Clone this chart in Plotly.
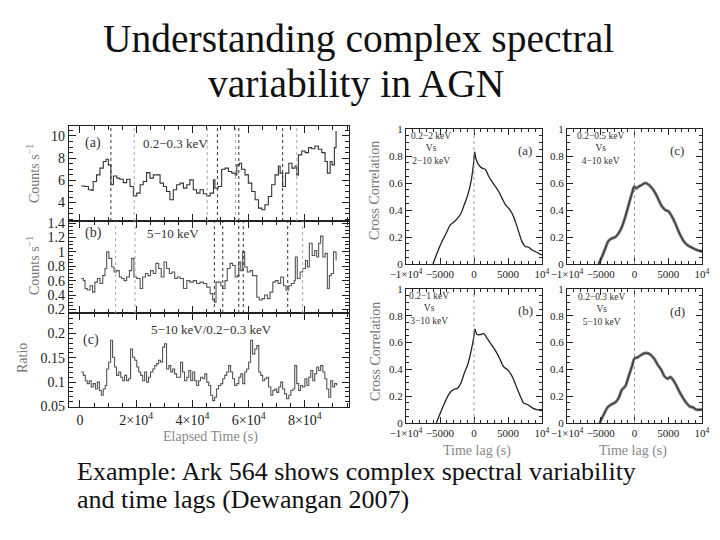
import plotly.graph_objects as go

# ---------------- light curves (time in ks) ----------------
t_soft = [0.4,1.8,3.0,4.2,4.7,5.9,7.1,8.3,9.3,10.1,
          11.0,11.9,13.1,14.2,15.4,16.6,17.8,19.0,20.2,21.4,
          22.5,23.7,24.9,26.1,27.3,28.5,29.7,30.8,32.0,33.2,
          34.4,35.6,36.8,38.0,39.1,40.3,41.5,42.7,43.9,45.1,
          46.3,47.5,48.0,49.2,50.4,51.6,52.8,54.0,55.2,55.8,
          56.7,57.5,58.7,59.9,61.1,62.3,63.5,64.7,65.8,67.0,
          68.2,69.4,70.6,71.2,72.1,73.1,74.3,75.4,76.5,77.1,
          77.7,78.9,80.1,81.3,82.4,83.6,84.8,86.0,87.2,88.0,
          89.0,89.7,90.5,91.1]
rate_soft = [5.5,5.45,5.15,5.1,5.9,6.5,7.1,7.7,7.9,7.4,
             5.6,6.4,6.2,6.1,5.8,6.1,5.45,4.6,4.85,5.6,
             5.9,6.7,6.2,6.5,6.5,5.75,5.45,5.0,4.25,5.15,
             5.6,5.75,5.3,5.6,6.05,5.15,4.85,5.15,4.8,4.6,
             4.85,6.05,5.3,5.45,7.0,7.1,6.8,6.65,6.5,7.4,
             7.55,7.0,6.5,5.75,5.0,4.25,3.5,3.35,3.8,4.55,
             5.6,6.5,7.3,6.65,5.45,6.65,7.55,7.1,7.3,6.5,
             8.3,8.65,8.5,8.95,8.85,9.1,8.8,8.5,7.7,6.65,
             7.7,7.4,8.95,10.45]

t_hard = [0.4,1.2,1.8,2.6,3.6,4.5,5.3,6.2,7.1,8.1,
          8.9,9.5,10.3,11.3,12.1,13.0,14.0,14.8,15.7,16.6,
          17.6,18.4,19.2,20.2,21.4,22.3,23.3,24.2,25.1,26.1,
          27.0,28.0,28.9,29.9,30.8,31.8,32.7,33.7,34.6,35.6,
          36.8,38.0,39.1,40.3,41.5,42.7,43.9,45.1,46.3,47.2,
          47.8,48.4,49.2,50.1,50.8,51.6,52.4,53.4,54.3,55.2,
          56.0,56.5,57.2,57.9,58.6,59.5,60.5,61.4,62.3,62.9,
          63.8,64.8,65.7,66.7,67.6,68.6,69.5,70.5,71.4,72.4,
          73.3,74.3,75.2,76.2,76.6,77.3,78.3,79.2,80.2,80.9,
          81.6,82.6,83.5,84.2,84.9,85.6,86.4,87.2,88.0,88.7,
          89.4,90.2,91.1]
rate_hard = [0.63,0.60,0.49,0.47,0.53,0.44,0.58,0.63,0.56,0.67,
             0.77,1.0,0.91,0.79,0.72,0.74,0.65,0.63,0.60,0.65,
             0.74,0.91,0.65,0.63,0.49,0.65,0.70,0.67,0.74,0.70,
             0.84,0.77,0.65,0.86,0.77,0.70,0.72,0.63,0.65,0.63,
             0.49,0.60,0.58,0.60,0.56,0.58,0.56,0.51,0.42,0.33,
             0.30,0.58,0.58,0.53,0.49,0.60,0.77,0.84,0.81,0.65,
             0.67,0.86,0.74,1.0,0.79,0.72,0.74,0.67,0.67,0.37,
             0.33,0.35,0.40,0.35,0.44,0.58,0.60,0.56,0.65,0.53,
             0.47,0.53,0.56,0.60,0.93,0.63,0.72,0.77,0.88,0.79,
             1.12,0.95,1.02,0.93,1.12,1.22,0.93,0.98,0.49,0.67,
             0.70,1.0,0.88]

t_ratio = [0.4,1.2,1.9,2.6,3.3,4.0,4.7,5.5,6.2,6.9,
           7.6,8.3,9.0,9.5,10.2,10.9,11.6,12.3,13.0,13.8,
           14.5,15.2,15.9,16.6,17.3,18.0,18.7,19.5,20.2,20.9,
           21.6,22.3,23.0,23.7,24.4,25.1,25.9,26.6,27.3,28.0,
           28.7,29.4,30.1,30.8,31.6,32.3,33.0,33.7,34.4,35.1,
           35.8,36.5,37.2,38.0,38.7,39.4,40.1,40.8,41.5,42.2,
           42.9,43.7,44.4,45.1,45.8,46.5,47.2,47.9,48.6,49.3,
           50.1,50.8,51.5,52.2,52.9,53.6,54.3,55.0,55.8,56.5,
           57.2,57.9,58.6,59.3,60.0,60.7,61.4,62.2,62.9,63.6,
           64.3,65.0,65.7,66.4,67.1,67.9,68.6,69.3,70.0,70.7,
           71.4,72.1,72.8,73.5,74.3,75.0,75.7,76.4,77.1,77.8,
           78.5,79.2,80.0,80.7,81.4,82.1,82.8,83.5,84.2,84.9,
           85.6,86.4,87.1,87.8,88.5,89.2,89.9,90.6,91.3]
ratio = [0.121,0.114,0.103,0.097,0.103,0.090,0.097,0.086,0.100,0.083,
         0.073,0.086,0.093,0.127,0.141,0.186,0.151,0.131,0.114,0.121,
         0.110,0.103,0.114,0.103,0.107,0.168,0.151,0.145,0.131,0.121,
         0.114,0.103,0.121,0.100,0.110,0.121,0.127,0.134,0.138,0.145,
         0.141,0.172,0.179,0.127,0.134,0.121,0.127,0.117,0.110,0.110,
         0.141,0.121,0.103,0.110,0.124,0.103,0.121,0.103,0.093,0.103,
         0.110,0.107,0.117,0.100,0.093,0.073,0.062,0.069,0.086,0.093,
         0.097,0.107,0.114,0.121,0.134,0.121,0.107,0.093,0.097,0.110,
         0.117,0.097,0.121,0.127,0.141,0.186,0.158,0.168,0.175,0.121,
         0.114,0.103,0.107,0.110,0.090,0.073,0.083,0.086,0.079,0.090,
         0.100,0.086,0.076,0.066,0.073,0.083,0.086,0.134,0.097,0.083,
         0.093,0.090,0.107,0.093,0.110,0.124,0.103,0.117,0.131,0.124,
         0.134,0.121,0.107,0.086,0.069,0.103,0.090,0.097,0.093]

# marked times (ks)
marks_soft_dark = [11.0, 48.9, 56.5, 72.1]
marks_soft_light = [19.3, 45.3, 55.3, 77.1]
marks_hard_dark = [47.8, 50.8, 56.5, 58.1, 73.9]
marks_hard_light = [12.7, 19.6, 79.2]

lc_ticks = [0, 20, 40, 60, 80]
lc_ticktext = ["0", "2×10<sup>4</sup>", "4×10<sup>4</sup>", "6×10<sup>4</sup>", "8×10<sup>4</sup>"]

# ---------------- cross correlations (lag in s) ----------------
lag_a = [-6030,-5440,-4710,-4070,-3480,-2990,-2400,-1910,-1420,-930,
         -440,-50,100,290,690,1180,1670,2160,2650,3140,
         3630,4120,4610,5100,5590,6080,6570,7060,7550,8040,
         8530,9020,9510,10000]
ccf_a = [0,0.08,0.166,0.23,0.29,0.31,0.34,0.376,0.44,0.51,
         0.61,0.75,0.83,0.78,0.735,0.71,0.70,0.65,0.61,0.574,
         0.537,0.488,0.44,0.413,0.376,0.314,0.24,0.166,0.13,0.124,
         0.104,0.092,0.079,0.067]

lag_c = [-5310,-4815,-4320,-3830,-3330,-2840,-2350,-1850,-1360,-860,
         -370,-25,270,620,1110,1600,2100,2590,3090,3580,
         4070,4570,5060,5560,6050,6540,7040,7530,8020,8520,
         9010,9510,10000]
ccf_c = [0,0.054,0.116,0.173,0.19,0.20,0.228,0.277,0.35,0.44,
         0.525,0.574,0.56,0.574,0.587,0.60,0.587,0.562,0.525,0.475,
         0.426,0.40,0.389,0.35,0.30,0.24,0.19,0.153,0.134,0.121,
         0.109,0.099,0.092]

lag_b = [-5540,-4950,-4220,-3580,-2990,-2400,-1910,-1420,-930,-440,
         -50,150,440,930,1420,1910,2400,2890,3380,3870,
         4360,4850,5340,5830,6320,6810,7300,7790,8280,8770,
         9260,10000]
ccf_b = [0,0.075,0.16,0.224,0.25,0.26,0.30,0.373,0.435,0.535,
         0.634,0.70,0.66,0.66,0.667,0.634,0.597,0.56,0.52,0.47,
         0.42,0.40,0.373,0.323,0.26,0.2,0.15,0.14,0.124,0.107,
         0.10,0.092]

lag_d = [-5160,-4570,-3980,-3480,-2840,-2350,-1850,-1360,-860,-370,
         -25,470,960,1460,1950,2440,2940,3430,3930,4420,
         4910,5310,5700,6200,6690,7190,7680,8170,8670,9160,
         10000]
ccf_d = [0,0.062,0.117,0.137,0.154,0.187,0.25,0.274,0.35,0.423,
         0.48,0.49,0.507,0.52,0.52,0.507,0.478,0.435,0.40,0.35,
         0.33,0.343,0.323,0.28,0.23,0.187,0.15,0.124,0.117,0.10,
         0.10]

ccf_ticks = [-10000, -5000, 0, 5000, 10000]
ccf_ticktext = ["−1×10<sup>4</sup>", "−5000", "0", "5000", "10<sup>4</sup>"]

# ---------------- layout helpers ----------------
W, H = 720, 540
def px(x):
    return x / W
def py(y):
    return 1 - y / H

FONT = "Liberation Serif"
INK = "#222222"

def ax_style(**kw):
    d = dict(showline=True, linecolor=INK, linewidth=1.3, mirror="ticks",
             ticks="inside", ticklen=7, tickwidth=1.2, tickcolor=INK,
             showgrid=False, zeroline=False, fixedrange=True, automargin=False,
             tickangle=0,
             tickfont=dict(family=FONT, size=14, color=INK))
    d.update(kw)
    return d

fig = go.Figure()

# light curves
fig.add_trace(go.Scatter(x=t_soft, y=rate_soft, mode="lines", line=dict(color="#333333", width=1.1, shape="hv"),
                         xaxis="x", yaxis="y", showlegend=False))
fig.add_trace(go.Scatter(x=t_hard, y=rate_hard, mode="lines", line=dict(color="#555555", width=1.1, shape="hv"),
                         xaxis="x2", yaxis="y2", showlegend=False))
fig.add_trace(go.Scatter(x=t_ratio, y=ratio, mode="lines", line=dict(color="#555555", width=1.1, shape="hv"),
                         xaxis="x3", yaxis="y3", showlegend=False))

# cross correlations
fig.add_trace(go.Scatter(x=lag_a, y=ccf_a, mode="lines", line=dict(color="#222222", width=1.3, shape="spline"),
                         xaxis="x4", yaxis="y4", showlegend=False))
for lag, cc, xa, ya in [(lag_c, ccf_c, "x5", "y5"), (lag_d, ccf_d, "x7", "y7")]:
    fig.add_trace(go.Scatter(x=lag, y=cc, mode="lines", line=dict(color="#777777", width=3, shape="spline"),
                             xaxis=xa, yaxis=ya, showlegend=False))
    fig.add_trace(go.Scatter(x=lag, y=cc, mode="lines", line=dict(color="#222222", width=0.9, shape="spline"),
                             xaxis=xa, yaxis=ya, showlegend=False))
fig.add_trace(go.Scatter(x=lag_b, y=ccf_b, mode="lines", line=dict(color="#222222", width=1.3, shape="spline"),
                         xaxis="x6", yaxis="y6", showlegend=False))

lc_dom = [px(69), px(349)]
lc_range = [-3.9, 95.7]
r_dom_left = [px(406), px(542)]
r_dom_right = [px(567), px(702)]
r_dom_top = [py(264), py(129)]
r_dom_bot = [py(423), py(289)]

layout = dict(
    width=W, height=H, margin=dict(l=0, r=0, t=0, b=0, autoexpand=False),
    paper_bgcolor="white", plot_bgcolor="white", showlegend=False,
    xaxis=ax_style(domain=lc_dom, anchor="y", range=lc_range, tickvals=lc_ticks, showticklabels=False,
                   minor=dict(dtick=5, ticks="inside", ticklen=3.5, tickcolor=INK)),
    yaxis=ax_style(domain=[py(221), py(126)], anchor="x", range=[2.34, 10.9], dtick=2, tick0=0,
                   minor=dict(dtick=0.5, ticks="inside", ticklen=3.5, tickcolor=INK)),
    xaxis2=ax_style(domain=lc_dom, anchor="y2", range=lc_range, tickvals=lc_ticks, showticklabels=False,
                    minor=dict(dtick=5, ticks="inside", ticklen=3.5, tickcolor=INK)),
    yaxis2=ax_style(domain=[py(313), py(221)], anchor="x2", range=[0.15, 1.43], dtick=0.2, tick0=0,
                    minor=dict(dtick=0.05, ticks="inside", ticklen=3.5, tickcolor=INK)),
    xaxis3=ax_style(domain=lc_dom, anchor="y3", range=lc_range, tickvals=lc_ticks, ticktext=lc_ticktext,
                    minor=dict(dtick=5, ticks="inside", ticklen=3.5, tickcolor=INK)),
    yaxis3=ax_style(domain=[py(407), py(313)], anchor="x3", range=[0.049, 0.242], dtick=0.05, tick0=0,
                    minor=dict(dtick=0.01, ticks="inside", ticklen=3.5, tickcolor=INK)),
)

small = dict(family=FONT, size=11, color=INK)
for xi, yi, xd, yd in [(4, 4, r_dom_left, r_dom_top), (5, 5, r_dom_right, r_dom_top),
                       (6, 6, r_dom_left, r_dom_bot), (7, 7, r_dom_right, r_dom_bot)]:
    layout[f"xaxis{xi}"] = ax_style(domain=xd, anchor=f"y{yi}", range=[-10000, 10000],
                                    tickvals=ccf_ticks, ticktext=ccf_ticktext, tickfont=small, ticklen=6,
                                    minor=dict(dtick=1000, ticks="inside", ticklen=3, tickcolor=INK))
    layout[f"yaxis{yi}"] = ax_style(domain=yd, anchor=f"x{xi}", range=[0, 1], dtick=0.2, tick0=0,
                                    tickfont=small, ticklen=6,
                                    minor=dict(dtick=0.05, ticks="inside", ticklen=3, tickcolor=INK))
fig.update_layout(**layout)

# vertical marks in light curves
shapes = []
for xs, xref, yref, col in [(marks_soft_dark, "x", "y domain", "#333333"),
                            (marks_soft_light, "x", "y domain", "#aaaaaa"),
                            (marks_hard_dark, "x2", "y2 domain", "#333333"),
                            (marks_hard_light, "x2", "y2 domain", "#aaaaaa")]:
    for xv in xs:
        shapes.append(dict(type="line", xref=xref, yref=yref, x0=xv, x1=xv, y0=0, y1=1,
                           line=dict(color=col, width=1, dash="dot")))
# zero-lag dotted lines
for xi in [4, 5, 6, 7]:
    shapes.append(dict(type="line", xref=f"x{xi}", yref=f"y{xi} domain", x0=0, x1=0, y0=0, y1=1,
                       line=dict(color="#999999", width=1, dash="dot")))
fig.update_layout(shapes=shapes)

ann = []
def text(x, y, s, size=13, color="#333333", angle=0, xanchor="center", yanchor="middle", family=FONT):
    ann.append(dict(x=px(x), y=py(y), xref="paper", yref="paper", text=s, showarrow=False,
                    textangle=angle, xanchor=xanchor, yanchor=yanchor,
                    font=dict(family=family, size=size, color=color)))

# title & caption
text(358, 39, "Understanding complex spectral", size=39.5, color="#111111")
text(356, 84, "variability in AGN", size=39.5, color="#111111")
text(75, 471, "Example: Ark 564 shows complex spectral variability", size=26, color="#111111", xanchor="left")
text(75, 499, "and time lags (Dewangan 2007)", size=26, color="#111111", xanchor="left")

# left panel labels
text(93, 143, "(a)", size=14)
text(175, 143, "0.2−0.3 keV", size=13)
text(93, 233, "(b)", size=14)
text(173, 233, "5−10 keV", size=13)
text(91, 340, "(c)", size=14)
text(211, 329, "5−10 keV/0.2−0.3 keV", size=13)
text(33, 174, "Counts s<sup>−1</sup>", size=14, color="#777777", angle=-90)
text(33, 266, "Counts s<sup>−1</sup>", size=14, color="#777777", angle=-90)
text(22, 358, "Ratio", size=14, color="#777777", angle=-90)
text(210, 437, "Elapsed Time (s)", size=14, color="#888888")

# right panel labels
for cx, cy, l1, l2, tag, tx in [(431, 148, "0.2−2 keV", "2−10 keV", "(a)", 525),
                               (600, 148, "0.2−0.5 keV", "4−10 keV", "(c)", 677),
                               (429, 308, "0.2−1 keV", "3−10 keV", "(b)", 525),
                               (601, 309, "0.2−0.3 keV", "5−10 keV", "(d)", 677)]:
    text(cx, cy, f"{l1}<br>Vs<br>{l2}", size=9.5)
    text(tx, cy + 2, tag, size=13)
text(375, 191, "Cross Correlation", size=14, color="#777777", angle=-90)
text(375, 352, "Cross Correlation", size=14, color="#777777", angle=-90)
text(477, 451, "Time lag (s)", size=14, color="#888888")
text(633, 451, "Time lag (s)", size=14, color="#888888")

fig.update_layout(annotations=ann)
fig.write_html("out.html", config={"displayModeBar": False},
               post_script="document.body.style.margin='0';document.body.style.overflow='hidden';")
